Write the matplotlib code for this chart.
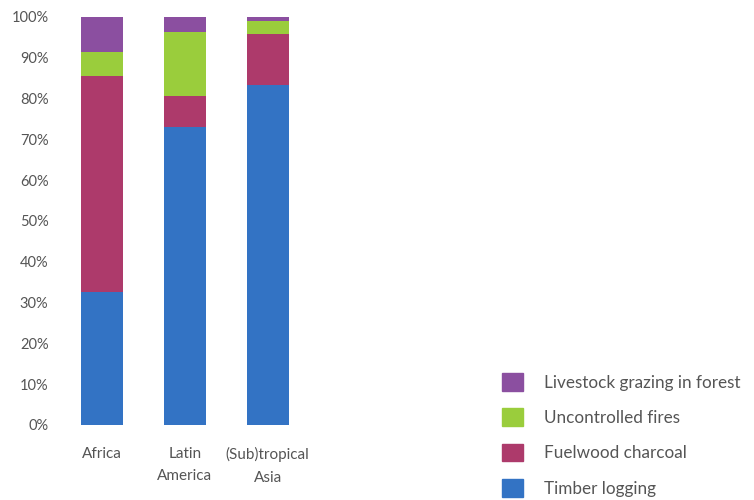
import numpy as np
import matplotlib
matplotlib.use("Agg")
import matplotlib.pyplot as plt
from matplotlib.patches import Patch

plt.rcParams['font.family'] = ['Lato', 'DejaVu Sans']

regions = ['Africa', 'Latin\nAmerica', '(Sub)tropical\nAsia']
timber = [32.6, 73.0, 83.3]
fuelwood = [52.9, 7.6, 12.5]
fires = [5.9, 15.7, 3.2]
grazing = [8.6, 3.7, 1.0]

names = ['Timber logging', 'Fuelwood charcoal', 'Uncontrolled fires', 'Livestock grazing in forest']
colors = ['#3373C4', '#AD3A6B', '#9ACD3C', '#8B4FA0']

fig = plt.figure(figsize=(7.54, 5.0), dpi=100)
ax = fig.add_axes([61 / 754, 75 / 500, 248 / 754, 408 / 500])

x = np.arange(len(regions))
bottom = np.zeros(len(regions))
for vals, c in zip([timber, fuelwood, fires, grazing], colors):
    ax.bar(x, vals, width=0.51, bottom=bottom, color=c, edgecolor='none')
    bottom += np.array(vals)

ax.set_xlim(-0.5, 2.5)
ax.set_ylim(0, 100)
ax.set_yticks(np.arange(0, 101, 10))
ax.set_yticklabels([f'{v}%' for v in range(0, 101, 10)], fontsize=10.5)
ax.set_xticks(x)
ax.set_xticklabels(regions, linespacing=1.75, fontsize=11)
ax.tick_params(length=0, colors='#555555')
ax.tick_params(axis='y', pad=9)
ax.tick_params(axis='x', pad=16)
for s in ax.spines.values():
    s.set_visible(False)

handles = [Patch(color=c, label=n) for c, n in zip(colors, names)][::-1]
fig.legend(handles=handles, loc='upper left', bbox_to_anchor=(502 / 754, 1 - 373 / 500),
           frameon=False, fontsize=12.3, labelcolor='#555555',
           handlelength=1.2, handleheight=1.2, handletextpad=1.25,
           labelspacing=1.05, borderpad=0, borderaxespad=0)

fig.savefig('out.png', dpi=100)
